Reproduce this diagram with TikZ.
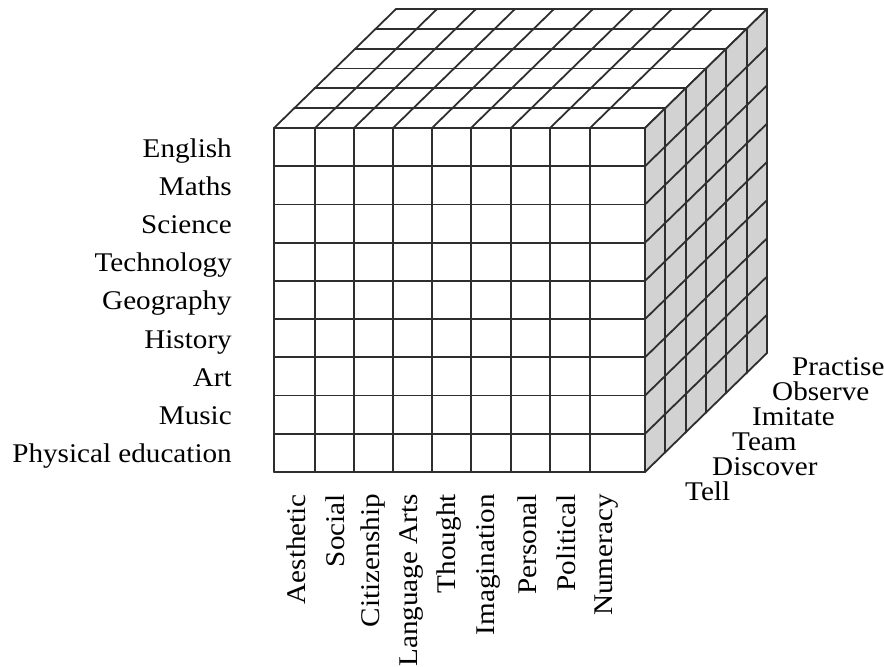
\documentclass[tikz,border=0pt]{standalone}
\usepackage{fontspec}
\setmainfont{Liberation Serif}[FakeStretch=1.08]
\begin{document}
\begin{tikzpicture}[x=1pt,y=-1pt,
  grid/.style={draw=black!82, line width=1.8pt, line cap=round},
  lab/.style={font=\fontsize{27}{27}\selectfont, inner sep=0pt}]
\useasboundingbox (0,0) rectangle (884,667);
% front face
\fill[white] (274,128) rectangle (645,472);
\foreach \x in {274,315,354,393,432,471,511,550,590,645}
  \draw[grid] (\x,128) -- (\x,472);
\foreach \i in {0,...,9}
  \draw[grid] (274,{128+\i*38.222}) -- (645,{128+\i*38.222});
% top face
\foreach \d in {1,...,6}
  \draw[grid] ({274+\d*20.333},{128-\d*19.833}) -- ({645+\d*20.333},{128-\d*19.833});
\foreach \x in {274,315,354,393,432,471,511,550,590,645}
  \draw[grid] (\x,128) -- ++(122,-119);
% side face
\fill[gray!35] (645,128) -- (767,9) -- (767,353) -- (645,472) -- cycle;
\foreach \d in {0,...,6}
  \draw[grid] ({645+\d*20.333},{128-\d*19.833}) -- ++(0,344);
\foreach \i in {0,...,9}
  \draw[grid] (645,{128+\i*38.222}) -- ++(122,-119);
% row labels
\foreach \t [count=\i from 0] in {English,Maths,Science,Technology,Geography,History,Art,Music,Physical education}
  \node[lab, anchor=base east] (r\i) at (232,{157+\i*38.222}) {\t};
% column labels
\foreach \t/\x [count=\i] in {Aesthetic/296,Social/335,Citizenship/373,Language Arts/411,Thought/449,Imagination/488,Personal/527,Political/566,Numeracy/607}
  \node[lab, rotate=90, anchor=east] (c\i) at (\x,494) {\t};
% depth labels
\node[lab, anchor=base west] (d1) at (685,500) {Tell};
\node[lab, anchor=base west] (d2) at (712,475) {Discover};
\node[lab, anchor=base west] (d3) at (732,450) {Team};
\node[lab, anchor=base west] (d4) at (752,425) {Imitate};
\node[lab, anchor=base west] (d5) at (772,400) {Observe};
\node[lab, anchor=base west] (d6) at (792,375) {Practise};
\end{tikzpicture}
\end{document}
